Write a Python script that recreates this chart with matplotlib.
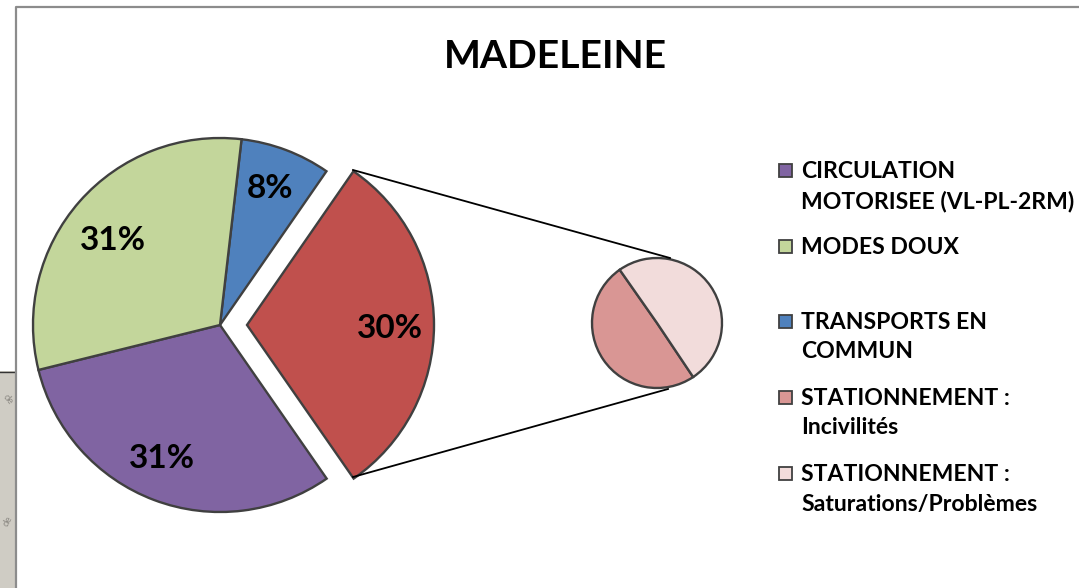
import matplotlib
matplotlib.use("Agg")
import matplotlib.pyplot as plt
from matplotlib.patches import Rectangle

title = "MADELEINE"
main_values = [30.8, 30.7, 7.8, 30.7]
main_colors = ["#8064A2", "#C0504D", "#4F81BD", "#C3D69B"]
main_labels = ["31%", "30%", "8%", "31%"]
main_explode = [0, 27, 0, 0]
sub_values = [14.9, 15.1]
sub_colors = ["#D99694", "#F2DCDB"]
legend_labels = ["CIRCULATION\nMOTORISEE (VL-PL-2RM)", "MODES DOUX", "TRANSPORTS EN\nCOMMUN",
                 "STATIONNEMENT :\nIncivilités", "STATIONNEMENT :\nSaturations/Problèmes"]
legend_colors = ["#8064A2", "#C3D69B", "#4F81BD", "#D99694", "#F2DCDB"]

W, H = 1079, 588
plt.rcParams["font.family"] = ["Lato", "DejaVu Sans"]
fig = plt.figure(figsize=(W / 100, H / 100), dpi=100)
ax = fig.add_axes([0, 0, 1, 1])
edge = dict(edgecolor="#404040", linewidth=1.7)

def Y(py):
    return H - py

# map strip and chart frame
ax.add_patch(Rectangle((0, Y(588)), 15, 217, fc="#CFCCC4", ec="none", zorder=0))
ax.plot([0, 15], [Y(371.5), Y(371.5)], color="#333333", lw=1, zorder=1)
ax.plot([15.5, 15.5, W], [0, Y(7), Y(7)], color="#8C8C8C", lw=1.6, zorder=1)
for s, x, y, r in [("de", 8, 399, -50), ("de", 8, 521, 62)]:
    ax.text(x, Y(y), s, fontsize=7, color="#8E8B85", rotation=r, ha="center", va="center", zorder=1)

# main pie (red slice exploded toward the small pie)
ax.pie(main_values, colors=main_colors, center=(220, Y(325)), radius=187,
       startangle=193.9, explode=main_explode, wedgeprops=edge, frame=True,
       normalize=True)
label_pos = [(162, 458), (390, 328), (270, 189), (113, 240)]
for s, (x, y) in zip(main_labels, label_pos):
    ax.text(x, Y(y), s, fontsize=24, fontweight="bold", color="black", ha="center", va="center", zorder=5)

# small pie
ax.pie(sub_values, colors=sub_colors, center=(657, Y(323)), radius=65,
       startangle=125, wedgeprops=edge, frame=True, normalize=True)

# connector lines
ax.plot([353, 670], [Y(170), Y(258)], color="black", lw=1.3, zorder=3)
ax.plot([353, 668], [Y(477), Y(389)], color="black", lw=1.3, zorder=3)

ax.text(555, Y(57), title, fontsize=28.2, fontweight="bold", ha="center", va="center")

# legend
legend_y = [170, 246, 321, 397, 473]
for s, c, y in zip(legend_labels, legend_colors, legend_y):
    ax.add_patch(Rectangle((779, Y(y + 7)), 13, 13, fc=c, edgecolor="#404040", lw=1.3))
    ax.text(801, Y(y - 9), s, fontsize=16.6, fontweight="bold", ha="left", va="top", linespacing=1.5)

ax.set_xlim(0, W)
ax.set_ylim(0, H)
ax.set_aspect("equal")
ax.axis("off")
fig.savefig("out.png", dpi=100)
